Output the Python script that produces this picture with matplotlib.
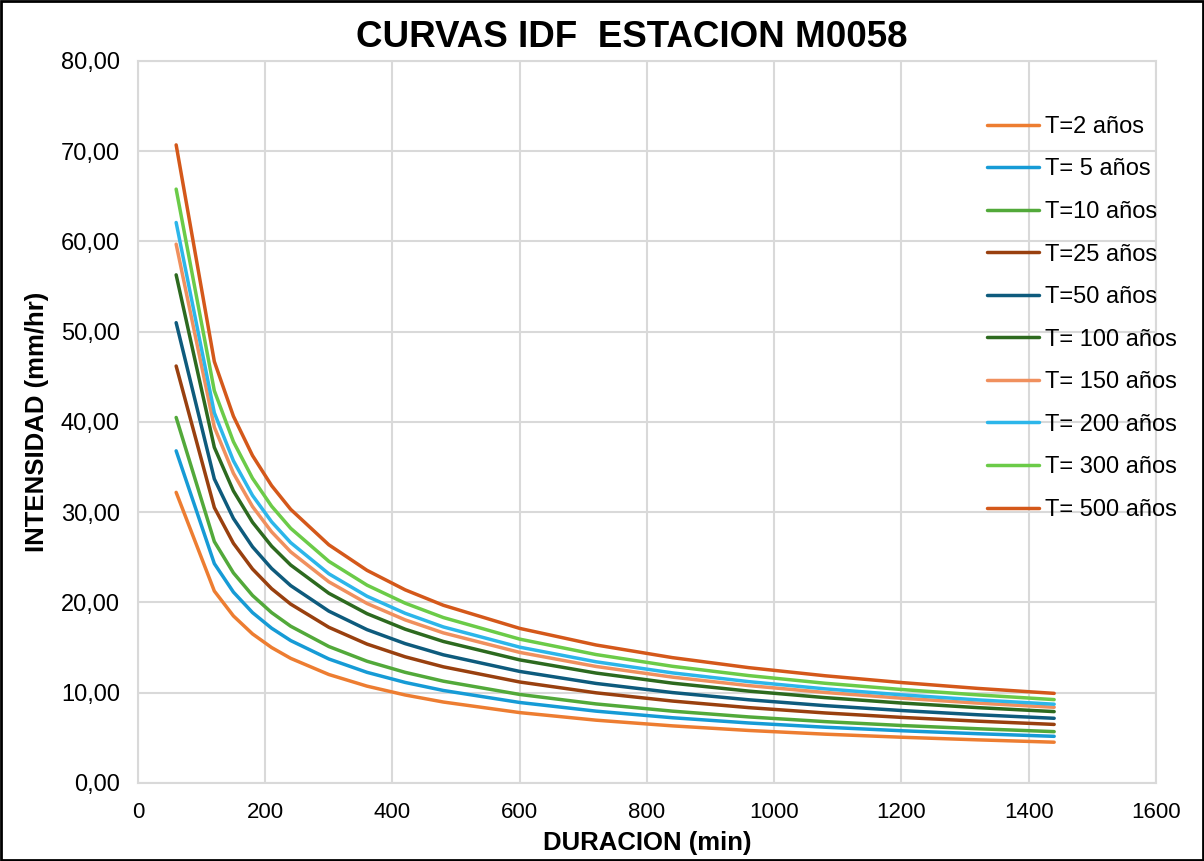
import matplotlib
matplotlib.use('Agg')
import matplotlib.pyplot as plt
from matplotlib.patches import Rectangle
from matplotlib.ticker import FuncFormatter, MultipleLocator

plt.rcParams['font.family'] = ['Liberation Sans', 'DejaVu Sans']

# duration (min)
duracion = [60, 120, 150, 180, 210, 240, 300, 360, 420, 480, 600, 720, 840, 960, 1080, 1200, 1320, 1440]

# intensity (mm/hr) per return period
t2 = [32.20, 21.27, 18.51, 16.52, 15.01, 13.81, 12.02, 10.73, 9.75, 8.97, 7.80, 6.96, 6.33, 5.82, 5.41, 5.07, 4.78, 4.52]
t5 = [36.80, 24.31, 21.15, 18.88, 17.15, 15.78, 13.74, 12.26, 11.14, 10.25, 8.92, 7.96, 7.23, 6.65, 6.18, 5.79, 5.46, 5.17]
t10 = [40.50, 26.75, 23.28, 20.78, 18.88, 17.37, 15.12, 13.49, 12.26, 11.28, 9.81, 8.76, 7.96, 7.32, 6.80, 6.37, 6.01, 5.69]
t25 = [46.20, 30.52, 26.56, 23.71, 21.53, 19.82, 17.25, 15.39, 13.98, 12.87, 11.19, 9.99, 9.08, 8.35, 7.76, 7.27, 6.85, 6.49]
t50 = [51.00, 33.69, 29.31, 26.17, 23.77, 21.87, 19.04, 16.99, 15.44, 14.20, 12.36, 11.03, 10.02, 9.22, 8.57, 8.03, 7.56, 7.17]
t100 = [56.30, 37.19, 32.36, 28.89, 26.24, 24.15, 21.02, 18.76, 17.04, 15.68, 13.64, 12.18, 11.06, 10.18, 9.46, 8.86, 8.35, 7.91]
t150 = [59.70, 39.43, 34.32, 30.63, 27.83, 25.61, 22.29, 19.89, 18.07, 16.63, 14.47, 12.91, 11.73, 10.79, 10.03, 9.40, 8.85, 8.39]
t200 = [62.10, 41.02, 35.70, 31.86, 28.94, 26.63, 23.18, 20.69, 18.80, 17.29, 15.05, 13.43, 12.20, 11.23, 10.43, 9.77, 9.21, 8.73]
t300 = [65.80, 43.46, 37.82, 33.76, 30.67, 28.22, 24.56, 21.92, 19.92, 18.33, 15.94, 14.23, 12.93, 11.90, 11.05, 10.36, 9.76, 9.24]
t500 = [70.70, 46.70, 40.64, 36.28, 32.95, 30.32, 26.39, 23.56, 21.40, 19.69, 17.13, 15.29, 13.89, 12.78, 11.88, 11.13, 10.48, 9.93]

series = [t2, t5, t10, t25, t50, t100, t150, t200, t300, t500]
labels = ['T=2 años', 'T= 5 años', 'T=10 años', 'T=25 años', 'T=50 años',
          'T= 100 años', 'T= 150 años', 'T= 200 años', 'T= 300 años', 'T= 500 años']
colors = ['#ed7d31', '#169bd6', '#52a93a', '#99400f', '#0e5b7d',
          '#2d6a1f', '#f0905e', '#2cb6ea', '#6bcb48', '#d4581a']

fig = plt.figure(figsize=(12.04, 8.61), dpi=100)
ax = fig.add_axes([0.1146, 0.0906, 0.8455, 0.8386])

for vals, lab, col in zip(series, labels, colors):
    ax.plot(duracion, vals, color=col, linewidth=2.5, label=lab, solid_capstyle='round')

ax.set_xlim(0, 1600)
ax.set_ylim(0, 80)
ax.xaxis.set_major_locator(MultipleLocator(200))
ax.yaxis.set_major_locator(MultipleLocator(10))
ax.yaxis.set_major_formatter(FuncFormatter(lambda v, p: f"{v:.2f}".replace('.', ',')))
ax.grid(True, color='#d9d9d9', linewidth=1.5)
ax.set_axisbelow(True)
for s in ax.spines.values():
    s.set_color('#d9d9d9')
    s.set_linewidth(1.5)
ax.tick_params(length=0, colors='black')
ax.tick_params(axis='x', labelsize=16, pad=14)
ax.tick_params(axis='y', labelsize=17, pad=13)

ax.set_xlabel('DURACION (min)', fontsize=18.5, fontweight='bold', va='center')
ax.set_ylabel('INTENSIDAD (mm/hr)', fontsize=18.5, fontweight='bold', va='center')
ax.xaxis.set_label_coords(0.5, -0.083)
ax.yaxis.set_label_coords(-0.099, 0.5)

fig.text(0.525, 0.957, 'CURVAS IDF  ESTACION M0058', fontsize=26.5, fontweight='bold',
         ha='center', va='center')

ax.legend(loc='upper left', bbox_to_anchor=(0.8198, 0.8654), bbox_transform=fig.transFigure,
          frameon=False, fontsize=17, handlelength=2.2, handletextpad=0.25,
          labelspacing=0.87, borderpad=0, borderaxespad=0)

fig.patches.append(Rectangle((0.001, 0.001), 0.998, 0.998, transform=fig.transFigure,
                             fill=False, edgecolor='black', linewidth=2))

fig.savefig('out.png', dpi=100)
